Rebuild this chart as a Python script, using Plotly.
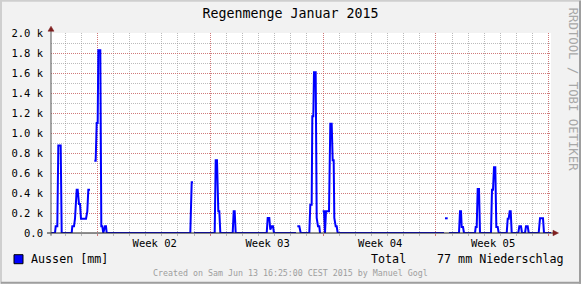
import plotly.graph_objects as go

# ---- data (days since start of January 2015 graph window, rain value) ----
days = [0.000, 0.248, 0.291, 0.391, 0.453, 0.601, 0.663, 1.283, 1.321, 1.426, 1.488, 1.593, 1.655,
        1.736, 1.798, 1.860, 2.170, 2.251, 2.313, 2.418, None,
        2.685, 2.771, 2.833, 2.895, 2.933, 3.057, 3.119, 3.181, 3.243, 3.348, 3.410, 3.453,
        8.637, 8.723, 8.804, None,
        8.866, 10.149, 10.211, 10.292, 10.373, 10.435, 10.497, 11.265, 11.327, 11.389, 11.451,
        13.373, 13.435, 13.534, 13.596, 13.683, 13.764, 13.826, 15.190, None,
        15.271, 15.395, 15.481, 16.015, 16.077, 16.163, 16.201, 16.263, 16.306, 16.411, 16.473,
        16.554, 16.635, 16.678, None,
        16.845, 16.926, 16.988, 17.050, 17.236, 17.317, 17.403, 17.465, 17.527, 17.565, 17.651,
        17.713, 17.775, 24.366, None,
        24.428, 24.595, None,
        24.676, 25.296, 25.358, 25.420, 25.463, 25.544, 25.606, 26.288, 26.332, 26.394, 26.455,
        26.536, 26.598, 27.280, 27.342, 27.404, 27.466, 27.547, 27.609, 27.696, 27.758, 28.254,
        28.316, 28.378, 28.440, 28.502, 28.564, 28.973, 29.035, 29.140, 29.202, 29.388, 29.450,
        29.556, 29.618, 30.237, 30.318, 30.504, 30.566, 31.000]
rain = [0, 0, 67, 67, 876, 876, 0, 0, 67, 67, 143, 433, 433,
        290, 290, 143, 143, 217, 433, 433, None,
        723, 723, 1100, 1100, 1827, 1827, 67, 67, 0, 67, 67, 0,
        0, 507, 507, None,
        0, 0, 727, 727, 217, 217, 0, 0, 217, 217, 0,
        0, 150, 150, 33, 67, 67, 0, 0, None,
        67, 67, 0, 0, 283, 283, 1167, 1167, 1607, 1607, 150,
        67, 67, 0, None,
        217, 217, 0, 217, 217, 1093, 1093, 727, 727, 150, 67,
        67, 0, 0, None,
        147, 147, None,
        0, 0, 217, 217, 60, 60, 0, 0, 60, 60, 440,
        440, 0, 0, 433, 433, 657, 657, 60, 60, 0, 0,
        143, 143, 217, 217, 0, 0, 67, 67, 0, 0, 67,
        67, 0, 0, 147, 147, 0, 0]

x_range = [0, 31]
day_grid_start = 0.868
week_lines = [2.868, 9.868, 16.868, 23.868, 30.868]
week_label_pos = [6.43, 13.43, 20.41, 27.41]
week_labels = ["Week 02", "Week 03", "Week 04", "Week 05"]
y_ticks = [0, 200, 400, 600, 800, 1000, 1200, 1400, 1600, 1800, 2000]
y_labels = ["0.0", "0.2 k", "0.4 k", "0.6 k", "0.8 k", "1.0 k", "1.2 k", "1.4 k", "1.6 k", "1.8 k", "2.0 k"]

title = "Regenmenge Januar 2015"
legend_name = "Aussen [mm]"
total_label = "Total"
total_value = "77 mm Niederschlag"
created = "Created on Sam Jun 13 16:25:00 CEST 2015 by Manuel Gogl"
watermark = "RRDTOOL / TOBI OETIKER"

W, H = 581, 284
L, R, T, B = 51, 551, 33.3, 233.3
FONT = "DejaVu Sans Mono"

def px(x):
    return (x - L) / (R - L)

def py(y):
    return (B - y) / (B - T)

fig = go.Figure()
fig.add_trace(go.Scatter(x=days, y=rain, mode="lines", connectgaps=False,
                         line=dict(color="#0000FF", width=2), showlegend=False, hoverinfo="skip"))
fig.add_trace(go.Scatter(x=[], y=[], xaxis="x2", showlegend=False))

minor_grid = "rgba(143,143,143,0.6)"
major_grid = "rgba(222,79,79,0.6)"

fig.update_layout(
    width=W, height=H,
    margin=dict(l=L, r=W - R, t=T, b=H - B, pad=0),
    paper_bgcolor="#F2F2F2", plot_bgcolor="#FFFFFF",
    font=dict(family=FONT, color="#000000", size=10.5),
    title=dict(text=title, x=290.5 / W, xref="container", xanchor="center", y=1 - 13.5 / H, yref="container",
               yanchor="middle", font=dict(family=FONT, size=13.3, color="#000000")),
    xaxis=dict(range=x_range, tickvals=week_lines, ticktext=[""] * len(week_lines),
               showgrid=True, gridcolor=major_grid, griddash="1px,1px", gridwidth=1,
               ticks="outside", ticklen=2, tickcolor=major_grid, showline=False, zeroline=False,
               minor=dict(tick0=day_grid_start, dtick=1, showgrid=True, gridcolor=minor_grid,
                          griddash="1px,1px", gridwidth=1, ticks="outside", ticklen=2,
                          tickcolor=minor_grid),
               fixedrange=True),
    xaxis2=dict(range=x_range, overlaying="x", anchor="y", side="bottom", tickvals=week_label_pos,
                ticktext=week_labels, showgrid=False, zeroline=False, showline=False, ticks="",
                tickfont=dict(family=FONT, size=10.5, color="#000000"), ticklabelstandoff=2),
    yaxis=dict(range=[0, 2000], tickvals=y_ticks, ticktext=y_labels, showgrid=True,
               gridcolor=major_grid, griddash="1px,1px", gridwidth=1, zeroline=False, showline=False,
               ticks="", ticklabelstandoff=7,
               tickfont=dict(family=FONT, size=10.5, color="#000000"),
               minor=dict(dtick=100, showgrid=True, gridcolor=minor_grid, griddash="1px,1px",
                          gridwidth=1),
               fixedrange=True),
    showlegend=False,
)

axis_col = "#1F1F1F"
arrow_col = "#7F1F1F"
shapes = []
# 3D frame
shapes.append(dict(type="rect", xref="paper", yref="paper", x0=px(0), x1=px(W), y0=py(0), y1=py(2),
                   fillcolor="#CFCFCF", line=dict(width=0), layer="above"))
shapes.append(dict(type="rect", xref="paper", yref="paper", x0=px(0), x1=px(2), y0=py(H), y1=py(0),
                   fillcolor="#CFCFCF", line=dict(width=0), layer="above"))
shapes.append(dict(type="rect", xref="paper", yref="paper", x0=px(W - 2), x1=px(W), y0=py(H), y1=py(1),
                   fillcolor="#9E9E9E", line=dict(width=0), layer="above"))
shapes.append(dict(type="rect", xref="paper", yref="paper", x0=px(1), x1=px(W), y0=py(H), y1=py(H - 2),
                   fillcolor="#9E9E9E", line=dict(width=0), layer="above"))
# axes
shapes.append(dict(type="line", xref="paper", yref="paper", x0=px(47), x1=px(553), y0=py(233.3), y1=py(233.3),
                   line=dict(color=axis_col, width=1), layer="above"))
shapes.append(dict(type="line", xref="paper", yref="paper", x0=px(51), x1=px(51), y0=py(236), y1=py(31),
                   line=dict(color="#555555", width=1), layer="above"))
# arrows
shapes.append(dict(type="path", xref="paper", yref="paper",
                   path=f"M {px(48)} {py(31.5)} L {px(54)} {py(31.5)} L {px(51)} {py(26.5)} Z",
                   fillcolor=arrow_col, line=dict(color=arrow_col, width=0.5), layer="above"))
shapes.append(dict(type="path", xref="paper", yref="paper",
                   path=f"M {px(553)} {py(230.5)} L {px(553)} {py(236.1)} L {px(558.5)} {py(233.3)} Z",
                   fillcolor=arrow_col, line=dict(color=arrow_col, width=0.5), layer="above"))
# legend box
shapes.append(dict(type="rect", xref="paper", yref="paper", x0=px(14), x1=px(23), y0=py(264), y1=py(255),
                   fillcolor="#0000FF", line=dict(color="#000000", width=1), layer="above"))
fig.update_layout(shapes=shapes)

ann = []
ann.append(dict(text=legend_name, x=px(28.5), y=py(259.5), xref="paper", yref="paper", xanchor="left",
                yanchor="middle", showarrow=False, font=dict(family=FONT, size=11.7, color="#000000")))
ann.append(dict(text=total_label, x=px(368.5), y=py(259.5), xref="paper", yref="paper", xanchor="left",
                yanchor="middle", showarrow=False, font=dict(family=FONT, size=11.7, color="#000000")))
ann.append(dict(text=total_value, x=px(565.5), y=py(259.5), xref="paper", yref="paper", xanchor="right",
                yanchor="middle", showarrow=False, font=dict(family=FONT, size=11.7, color="#000000")))
ann.append(dict(text=created, x=px(290.5), y=py(273.5), xref="paper", yref="paper", xanchor="center",
                yanchor="middle", showarrow=False, font=dict(family=FONT, size=8.3, color="#9E9E9E")))
ann.append(dict(text=watermark, x=px(573), y=py(89), xref="paper", yref="paper", xanchor="center",
                yanchor="middle", textangle=90, showarrow=False,
                font=dict(family=FONT, size=12.3, color="#A8A8A8")))
fig.update_layout(annotations=ann)

fig.write_html("out.html")
